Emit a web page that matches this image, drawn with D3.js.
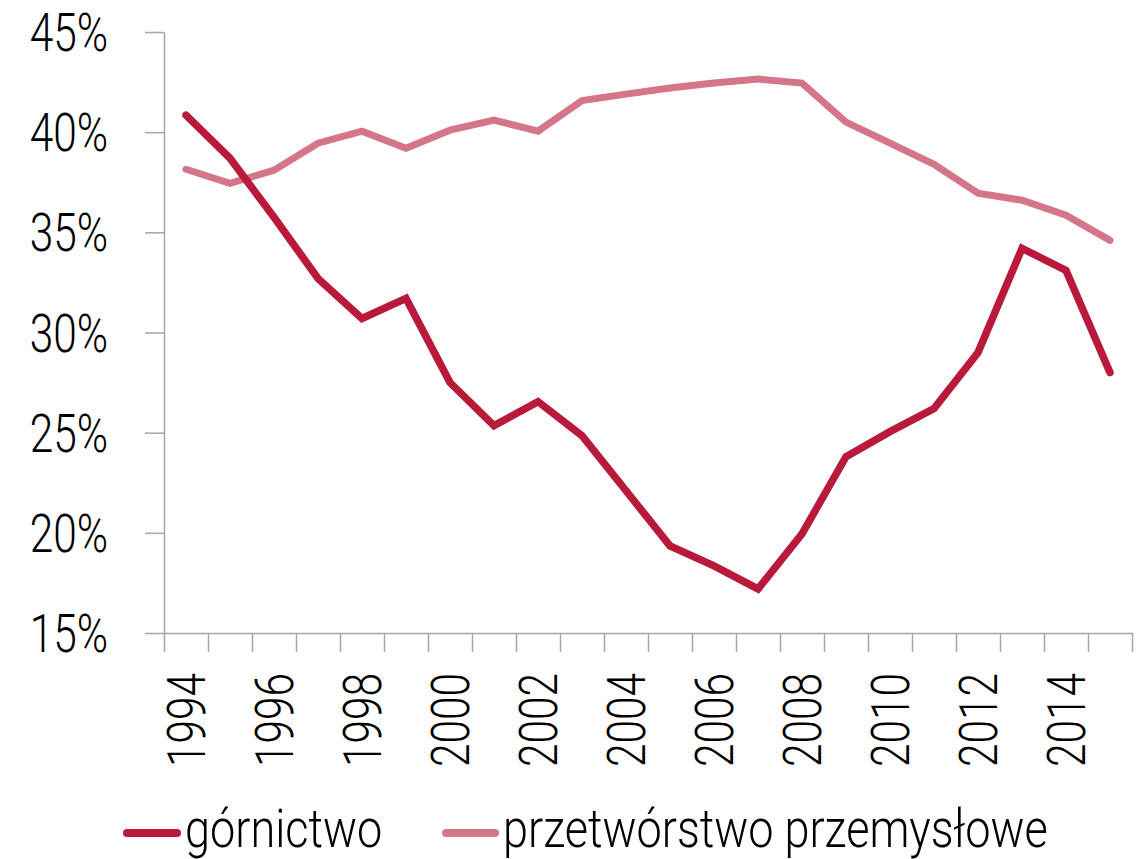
<!DOCTYPE html>
<html>
<head>
<meta charset="utf-8">
<script src="https://cdn.jsdelivr.net/npm/d3@7"></script>
<style>
  html, body { margin: 0; padding: 0; background: #fff; }
  svg text { font-family: Roboto, "Noto Sans", sans-serif; font-weight: 300; fill: #000; }
</style>
</head>
<body>
<div id="chart"></div>
<script>
// years on the x axis
const years = d3.range(1994, 2016);
// share of the sector (%)
const gornictwo = [40.85, 38.7, 35.75, 32.7, 30.7, 31.7, 27.5, 25.35, 26.55, 24.85, 22.1,
  19.35, 18.35, 17.2, 19.95, 23.8, 25.05, 26.2, 29.0, 34.2, 33.1, 28.0];
const przetworstwo = [38.15, 37.45, 38.1, 39.45, 40.05, 39.2, 40.1, 40.6, 40.05, 41.58, 41.9,
  42.2, 42.45, 42.65, 42.45, 40.5, 39.45, 38.4, 36.95, 36.6, 35.85, 34.6];
const yTicks = [15, 20, 25, 30, 35, 40, 45];
const xLabelYears = years.filter(y => y % 2 === 0);
const seriesNames = ["górnictwo", "przetwórstwo przemysłowe"];
const seriesColors = ["#b9193b", "#d47589"];

const width = 1140;
const height = 859;
const marginTop = 32;
const marginLeft = 164;
const plotRight = 1132;
const plotBottom = 633;
const squeeze = 0.8; // fake a condensed face
const legendSqueeze = 0.85;

const svg = d3.select("#chart").append("svg")
    .attr("width", width)
    .attr("height", height);

const x = d3.scaleBand()
    .domain(years)
    .range([marginLeft, plotRight])
    .padding(0);

// boundaries between the years, where the ticks sit
const xb = d3.scaleLinear()
    .domain([0, years.length])
    .range([marginLeft, plotRight]);

const y = d3.scaleLinear()
    .domain([15, 45])
    .range([plotBottom, marginTop]);

const axisColor = "#a6a6a6";

// y axis
svg.append("g")
    .attr("transform", `translate(${marginLeft},0)`)
    .call(d3.axisLeft(y).tickValues(yTicks).tickSize(19).tickSizeOuter(0).tickFormat(d => d + "%"))
    .call(g => g.selectAll("path, line").attr("stroke", axisColor).attr("stroke-width", 1.5))
    .call(g => g.selectAll("text")
        .attr("font-size", 53)
        .attr("x", -56 / squeeze)
        .attr("dy", "0.35em")
        .attr("transform", `scale(${squeeze},1)`));

// x axis ticks on the boundaries
svg.append("g")
    .attr("transform", `translate(0,${plotBottom})`)
    .call(d3.axisBottom(xb).tickValues(d3.range(0, years.length + 1)).tickSize(19).tickSizeOuter(0).tickFormat(""))
    .call(g => g.selectAll("path, line").attr("stroke", axisColor).attr("stroke-width", 1.5));

// x labels, rotated
svg.append("g")
    .attr("transform", `translate(0,${plotBottom})`)
    .call(d3.axisBottom(x).tickValues(xLabelYears).tickSize(0))
    .call(g => g.select(".domain").remove())
    .call(g => g.selectAll("text")
        .attr("font-size", 53)
        .attr("text-anchor", "end")
        .attr("x", -40 / squeeze)
        .attr("y", 0)
        .attr("dy", "0.35em")
        .attr("transform", `rotate(-90) scale(${squeeze},1)`));

// lines
const line = d3.line()
    .x((d, i) => x(years[i]) + x.bandwidth() / 2)
    .y(d => y(d));

[przetworstwo, gornictwo].forEach((vals, k) => {
    const idx = k === 0 ? 1 : 0;
    svg.append("path")
        .datum(vals)
        .attr("fill", "none")
        .attr("stroke", seriesColors[idx])
        .attr("stroke-width", idx === 0 ? 7.5 : 7)
        .attr("stroke-linejoin", "miter")
        .attr("stroke-linecap", "round")
        .attr("d", line);
});

// legend
const legendItems = [
    { name: seriesNames[0], color: seriesColors[0], x0: 127, x1: 177, tx: 185 },
    { name: seriesNames[1], color: seriesColors[1], x0: 446, x1: 495, tx: 503 }
];
const legendY = 833;
const lg = svg.append("g");
legendItems.forEach(d => {
    lg.append("line")
        .attr("x1", d.x0).attr("x2", d.x1)
        .attr("y1", legendY).attr("y2", legendY)
        .attr("stroke", d.color)
        .attr("stroke-width", 8)
        .attr("stroke-linecap", "round");
    lg.append("text")
        .attr("transform", `translate(${d.tx},847) scale(${legendSqueeze},1)`)
        .attr("font-size", 53)
        .text(d.name);
});
</script>
</body>
</html>
